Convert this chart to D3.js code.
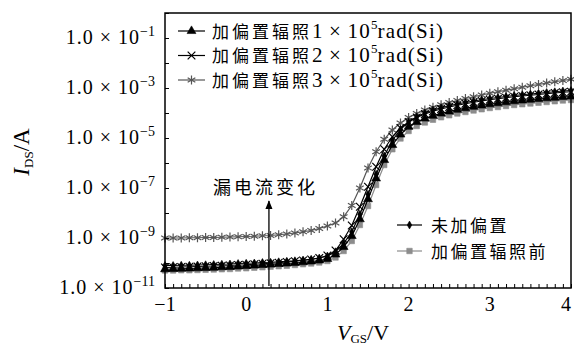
<!DOCTYPE html>
<html>
<head>
<meta charset="utf-8">
<script src="https://cdn.jsdelivr.net/npm/d3@7"></script>
<style>
  body { margin: 0; background: #fff; }
  svg { display: block; }
  .serif { font-family: "Liberation Serif", "DejaVu Serif", serif; }
  .cjk { font-family: "Noto Sans CJK SC", sans-serif; }
</style>
</head>
<body>
<div id="chart"></div>
<script>
// gate voltage sweep (V)
const vgs = [
  -1.0, -0.9, -0.8, -0.7, -0.6, -0.5, -0.4, -0.3, -0.2, -0.1,
   0.0,  0.1,  0.2,  0.3,  0.4,  0.5,  0.6,  0.7,  0.8,  0.9,
   1.0,  1.1,  1.2,  1.3,  1.4,  1.5,  1.6,  1.7,  1.8,  1.9,
   2.0,  2.1,  2.2,  2.3,  2.4,  2.5,  2.6,  2.7,  2.8,  2.9,
   3.0,  3.1,  3.2,  3.3,  3.4,  3.5,  3.6,  3.7,  3.8,  3.9,
   4.0
];

// log10(I_DS / A)
const lgPre = [ // 加偏置辐照前
  -10.3, -10.3, -10.29, -10.29, -10.28, -10.27, -10.26, -10.25, -10.24, -10.22,
  -10.21, -10.19, -10.17, -10.15, -10.13, -10.11, -10.08, -10.05, -10.02, -9.98,
  -9.92, -9.78, -9.52, -9.12, -8.48, -7.72, -6.88, -6.08, -5.45, -5.02,
  -4.72, -4.52, -4.38, -4.27, -4.17, -4.09, -4.02, -3.96, -3.9, -3.85,
  -3.8, -3.76, -3.72, -3.68, -3.65, -3.62, -3.59, -3.56, -3.53, -3.5,
  -3.48
];
const lg1e5 = [
  -10.25, -10.24, -10.23, -10.22, -10.21, -10.2, -10.19, -10.17, -10.16, -10.14,
  -10.12, -10.1, -10.08, -10.06, -10.04, -10.02, -10.0, -9.97, -9.94, -9.9,
  -9.84, -9.66, -9.36, -8.92, -8.25, -7.45, -6.62, -5.88, -5.28, -4.86,
  -4.55, -4.36, -4.22, -4.11, -4.02, -3.94, -3.87, -3.81, -3.75, -3.7,
  -3.65, -3.61, -3.57, -3.53, -3.5, -3.47, -3.44, -3.41, -3.39, -3.36,
  -3.34
];
const lg2e5 = [
  -10.18, -10.17, -10.16, -10.15, -10.14, -10.13, -10.12, -10.11, -10.1, -10.08,
  -10.07, -10.05, -10.03, -10.01, -9.99, -9.96, -9.93, -9.9, -9.86, -9.8,
  -9.7, -9.5, -9.05, -8.5, -7.75, -6.95, -6.15, -5.45, -4.95, -4.6,
  -4.36, -4.18, -4.04, -3.93, -3.84, -3.76, -3.69, -3.63, -3.57, -3.52,
  -3.47, -3.43, -3.39, -3.35, -3.32, -3.29, -3.26, -3.23, -3.2, -3.17,
  -3.15
];
const lg3e5 = [
  -9.0, -9.0, -9.0, -8.99, -8.99, -8.98, -8.98, -8.97, -8.96, -8.95,
  -8.94, -8.93, -8.91, -8.9, -8.87, -8.84, -8.8, -8.75, -8.7, -8.62,
  -8.52, -8.4, -8.15, -7.7, -7.0, -6.2, -5.55, -5.05, -4.68, -4.4,
  -4.18, -4.02, -3.88, -3.77, -3.67, -3.58, -3.5, -3.42, -3.35, -3.28,
  -3.21, -3.15, -3.09, -3.03, -2.97, -2.91, -2.86, -2.8, -2.75, -2.7,
  -2.65
];
const lgNoBias = [ // 未加偏置
  -10.1, -10.1, -10.09, -10.09, -10.08, -10.07, -10.06, -10.05, -10.04, -10.02,
  -10.01, -10.0, -9.98, -9.97, -9.95, -9.93, -9.91, -9.88, -9.85, -9.8,
  -9.72, -9.55, -9.22, -8.75, -8.05, -7.25, -6.45, -5.72, -5.1, -4.66,
  -4.35, -4.15, -4.0, -3.88, -3.79, -3.71, -3.64, -3.58, -3.52, -3.47,
  -3.42, -3.38, -3.34, -3.3, -3.27, -3.24, -3.21, -3.18, -3.15, -3.12,
  -3.1
];

const xTickLabels = [-1, 0, 1, 2, 3, 4];
const yLabelExps = [-1, -3, -5, -7, -9, -11];

const width = 574, height = 348;
const margin = { top: 13, right: 2, bottom: 60, left: 165 };

const svg = d3.select("#chart").append("svg")
  .attr("width", width)
  .attr("height", height);

const x = d3.scaleLinear().domain([-1, 4]).range([margin.left, width - margin.right - 1]);
const y = d3.scaleLog().domain([1e-11, 1]).range([height - margin.bottom, margin.top]);

// series: drawn bottom to top
const series = [
  { lg: lgPre, color: "#8c8c8c", sym: d3.symbolSquare, size: 30, fill: true },
  { lg: lg3e5, color: "#555", sym: d3.symbolAsterisk, size: 55, fill: false },
  { lg: lg1e5, color: "#000", sym: d3.symbolTriangle, size: 34, fill: true },
  { lg: lg2e5, color: "#000", sym: d3.symbolX, size: 40, fill: false },
  { lg: lgNoBias, color: "#000", sym: d3.symbolDiamond, size: 18, fill: true }
];

const line = d3.line()
  .x(d => x(d.v))
  .y(d => y(d.i));

function drawMarker(g, s, px, py) {
  g.append("path")
    .attr("transform", `translate(${px},${py})`)
    .attr("d", d3.symbol(s.sym, s.size)())
    .attr("fill", s.fill ? s.color : "none")
    .attr("stroke", s.color)
    .attr("stroke-width", s.fill ? 0.6 : 1.2);
}

const plot = svg.append("g");
series.forEach(s => {
  const pts = vgs.map((v, k) => ({ v: v, i: Math.pow(10, s.lg[k]) }));
  const g = plot.append("g");
  g.append("path")
    .datum(pts)
    .attr("d", line)
    .attr("fill", "none")
    .attr("stroke", s.color)
    .attr("stroke-width", 1.2);
  pts.forEach(p => drawMarker(g, s, x(p.v), y(p.i)));
});

// frame
svg.append("rect")
  .attr("x", margin.left).attr("y", margin.top)
  .attr("width", x(4) - margin.left)
  .attr("height", y(1e-11) - margin.top)
  .attr("fill", "none").attr("stroke", "#000").attr("stroke-width", 1.5);

// bottom axis: minor ticks every 0.1 V pointing in
const xAxis = svg.append("g")
  .attr("transform", `translate(0,${y(1e-11)})`)
  .call(d3.axisBottom(x).tickValues(d3.range(-10, 41).map(k => k / 10)).tickSize(-4).tickFormat(""));
xAxis.select(".domain").remove();
xAxis.selectAll(".tick line").attr("stroke-width", 1);

svg.append("g").selectAll("text")
  .data(xTickLabels)
  .join("text")
  .attr("class", "serif")
  .attr("x", d => d === 4 ? x(d) - 5 : x(d))
  .attr("y", y(1e-11) + 23)
  .attr("text-anchor", "middle")
  .attr("font-size", 20)
  .text(d => d < 0 ? "\u2212" + Math.abs(d) : d);

// left axis: decade ticks pointing in
const decades = d3.range(-11, 1).map(e => Math.pow(10, e));
const yAxis = svg.append("g")
  .attr("transform", `translate(${margin.left},0)`)
  .call(d3.axisLeft(y).tickValues(decades).tickSize(-4).tickFormat(""));
yAxis.select(".domain").remove();

const yl = svg.append("g").selectAll("text")
  .data(yLabelExps)
  .join("text")
  .attr("class", "serif")
  .attr("x", 155)
  .attr("y", d => y(Math.pow(10, d)) + 6)
  .attr("text-anchor", "end")
  .attr("font-size", 20);
yl.append("tspan").attr("letter-spacing", 1).text("1.0 \u00d7 10");
yl.append("tspan").attr("dy", -8).attr("font-size", 14).text(d => "\u2212" + Math.abs(d));

// axis titles
const yt = svg.append("text")
  .attr("class", "serif")
  .attr("transform", "translate(29,152) rotate(-90)")
  .attr("text-anchor", "middle")
  .attr("font-size", 23);
yt.append("tspan").attr("font-style", "italic").text("I");
yt.append("tspan").attr("font-size", 13).attr("dy", 4).text("DS");
yt.append("tspan").attr("dy", -4).text("/A");

const xt = svg.append("text")
  .attr("class", "serif")
  .attr("x", 363).attr("y", 340)
  .attr("text-anchor", "middle")
  .attr("font-size", 22);
xt.append("tspan").attr("font-style", "italic").text("V");
xt.append("tspan").attr("font-size", 13).attr("dy", 3).text("GS");
xt.append("tspan").attr("dy", -3).text("/V");

// legend 1: irradiated with bias
const legend1 = [
  { s: series[2], dose: "1" },
  { s: series[3], dose: "2" },
  { s: series[1], dose: "3" }
];
legend1.forEach((d, k) => {
  const cy = 31 + k * 24.5;
  svg.append("line")
    .attr("x1", 178).attr("x2", 205).attr("y1", cy).attr("y2", cy)
    .attr("stroke", d.s.color).attr("stroke-width", 1.2);
  drawMarker(svg, d.s, 191.5, cy);
  const t = svg.append("text").attr("x", 212).attr("y", cy + 6.5).attr("font-size", 17);
  t.append("tspan").attr("class", "cjk").attr("letter-spacing", 3).text("加偏置辐照");
  t.append("tspan").attr("class", "serif").attr("font-size", 21).attr("letter-spacing", 1.2)
    .text(d.dose + "\u2009\u00d7\u200910");
  t.append("tspan").attr("class", "serif").attr("font-size", 13).attr("dy", -9).text("5");
  t.append("tspan").attr("class", "serif").attr("font-size", 21).attr("letter-spacing", 1.2)
    .attr("dy", 9).text("rad(Si)");
});

// legend 2
const legend2 = [
  { s: series[4], label: "未加偏置" },
  { s: series[0], label: "加偏置辐照前" }
];
legend2.forEach((d, k) => {
  const cy = 225 + k * 26;
  svg.append("line")
    .attr("x1", 397).attr("x2", 422).attr("y1", cy).attr("y2", cy)
    .attr("stroke", d.s.color).attr("stroke-width", 1.2);
  drawMarker(svg, d.s, 409.5, cy);
  svg.append("text").attr("class", "cjk")
    .attr("x", 431).attr("y", cy + 6.5).attr("font-size", 17)
    .attr("letter-spacing", 2.5)
    .text(d.label);
});

// annotation arrow
svg.append("defs").append("marker")
  .attr("id", "arrow")
  .attr("viewBox", "0 0 10 10")
  .attr("refX", 9).attr("refY", 5)
  .attr("markerWidth", 7).attr("markerHeight", 9)
  .attr("orient", "auto")
  .append("path").attr("d", "M0,1 L10,5 L0,9 Z").attr("fill", "#000");

svg.append("line")
  .attr("x1", x(0.28)).attr("x2", x(0.28))
  .attr("y1", y(1.2e-11)).attr("y2", y(3e-8))
  .attr("stroke", "#000").attr("stroke-width", 1.3)
  .attr("marker-end", "url(#arrow)");

svg.append("text").attr("class", "cjk")
  .attr("x", 213).attr("y", 194).attr("font-size", 18)
  .attr("letter-spacing", 3)
  .text("漏电流变化");
</script>
</body>
</html>
